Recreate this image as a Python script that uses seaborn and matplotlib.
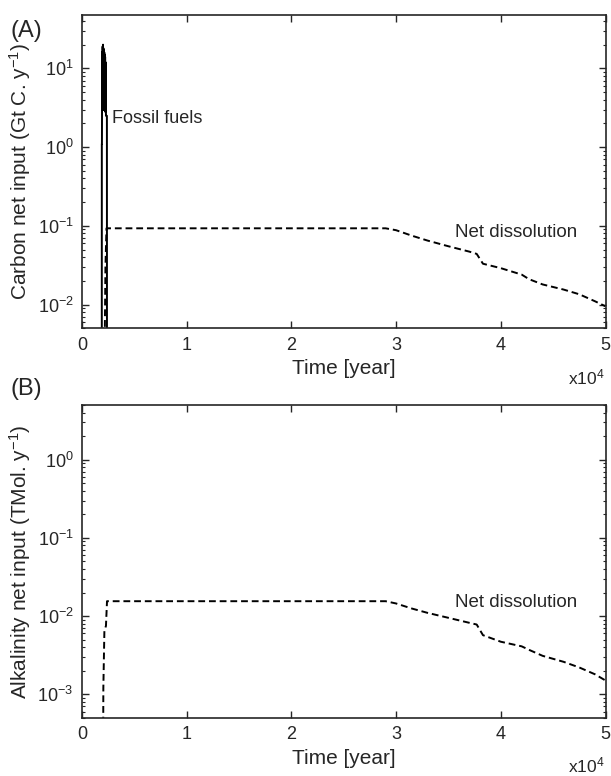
import numpy as np
import pandas as pd
import matplotlib
matplotlib.use("Agg")
import matplotlib.pyplot as plt
import matplotlib.ticker as mticker
import seaborn as sns

# fossil fuel emission pulse (Gt C / y), annual-scale oscillations make a dense band
fossil_years = [1880, 1900, 1905, 1915, 1940, 1960, 1980, 2000, 2020, 2040, 2060, 2080, 2100,
                2120, 2140, 2160, 2180, 2200, 2220, 2240, 2260, 2300, 2350, 2390, 2400]
fossil_carbon = [1e-5, 1e-5, 1.1, 1.1, 16.0, 3.0, 19.0, 3.5, 20.0, 3.0, 18.0, 3.0, 17.0,
                 3.0, 16.0, 3.0, 15.0, 3.0, 14.0, 2.8, 12.0, 2.5, 2.5, 2.5, 1e-5]

# net carbonate dissolution (carbon, Gt C / y)
dissol_years = [2000, 2250, 2350, 29000, 30000, 31500, 33000, 35000, 37000, 37700, 38300, 40000, 42000,
                42700, 44000, 46000, 47500, 49000, 50000]
dissol_carbon = [1e-5, 0.03, 0.093, 0.093, 0.088, 0.075, 0.065, 0.055, 0.047, 0.044, 0.033, 0.029, 0.024,
                 0.021, 0.018, 0.0155, 0.0135, 0.011, 0.0095]

# net alkalinity input (TMol / y)
alk_years = [2000, 2050, 2150, 2300, 2400, 29000, 30000, 31500, 33000, 35000, 37000, 37700, 38300, 40000,
             42000, 42700, 44000, 46000, 47500, 49000, 50000]
alk_input = [1e-5, 0.0012, 0.0065, 0.0075, 0.0155, 0.0155, 0.0145, 0.0125, 0.011, 0.0095, 0.0082, 0.0078,
             0.0057, 0.0047, 0.0041, 0.0037, 0.0031, 0.0026, 0.0022, 0.0018, 0.0015]

sns.set_style("ticks")
plt.rcParams['font.family'] = ['Liberation Sans', 'DejaVu Sans']
plt.rcParams['mathtext.fontset'] = 'custom'
plt.rcParams['mathtext.rm'] = 'Liberation Sans'
plt.rcParams['mathtext.it'] = 'Liberation Sans:italic'
plt.rcParams['axes.unicode_minus'] = False

fig = plt.figure(figsize=(6.11, 7.76), dpi=100)
ax_a = fig.add_axes([0.134, 0.577, 0.857, 0.404])
ax_b = fig.add_axes([0.134, 0.075, 0.857, 0.403])

df_fossil = pd.DataFrame({'year': fossil_years, 'value': fossil_carbon})
df_dissol = pd.DataFrame({'year': dissol_years, 'value': dissol_carbon})
df_alk = pd.DataFrame({'year': alk_years, 'value': alk_input})

sns.lineplot(data=df_fossil, x='year', y='value', ax=ax_a, color='k', lw=1.4,
             estimator=None, sort=False)
sns.lineplot(data=df_dissol, x='year', y='value', ax=ax_a, color='k', lw=1.4,
             linestyle=(0, (3.5, 2)), estimator=None, sort=False)
sns.lineplot(data=df_alk, x='year', y='value', ax=ax_b, color='k', lw=1.4,
             linestyle=(0, (3.5, 2)), estimator=None, sort=False)


def style_axis(ax, ylim):
    ax.set_yscale('log')
    ax.set_xlim(0, 50000)
    ax.set_ylim(*ylim)
    ax.xaxis.set_major_locator(mticker.MultipleLocator(10000))
    ax.xaxis.set_major_formatter(mticker.FuncFormatter(lambda v, p: f"{v / 1e4:g}"))
    ax.yaxis.set_major_locator(mticker.LogLocator(base=10, numticks=20))
    ax.yaxis.set_minor_locator(mticker.LogLocator(base=10, subs=np.arange(2, 10), numticks=20))
    ax.yaxis.set_minor_formatter(mticker.NullFormatter())
    ax.tick_params(which='both', direction='in', top=True, right=True, labelsize=13, pad=6)
    ax.tick_params(which='major', length=5, width=1)
    ax.tick_params(which='minor', length=2.5, width=0.8)
    for s in ax.spines.values():
        s.set_linewidth(1.2)
        s.set_visible(True)
    ax.set_xlabel('Time [year]', fontsize=15, labelpad=4)


style_axis(ax_a, (5e-3, 48))
style_axis(ax_b, (5e-4, 5))

ax_a.set_ylabel('Carbon net input (Gt C. y$^{-1}$)', fontsize=15, labelpad=3)
ax_b.set_ylabel('Alkalinity net input (TMol. y$^{-1}$)', fontsize=15, labelpad=3)

ax_a.text(2900, 2.3, 'Fossil fuels', fontsize=13, va='center', ha='left')
ax_a.text(35600, 0.083, 'Net dissolution', fontsize=13.5, va='center', ha='left')
ax_b.text(35600, 0.0148, 'Net dissolution', fontsize=13.5, va='center', ha='left')

fig.text(0.017, 0.960, '(A)', fontsize=17, va='center', ha='left')
fig.text(0.017, 0.499, '(B)', fontsize=17, va='center', ha='left')
fig.text(0.929, 0.513, 'x10$^4$', fontsize=12.5, va='center', ha='left')
fig.text(0.929, 0.013, 'x10$^4$', fontsize=12.5, va='center', ha='left')

fig.savefig('out.png', dpi=100)
